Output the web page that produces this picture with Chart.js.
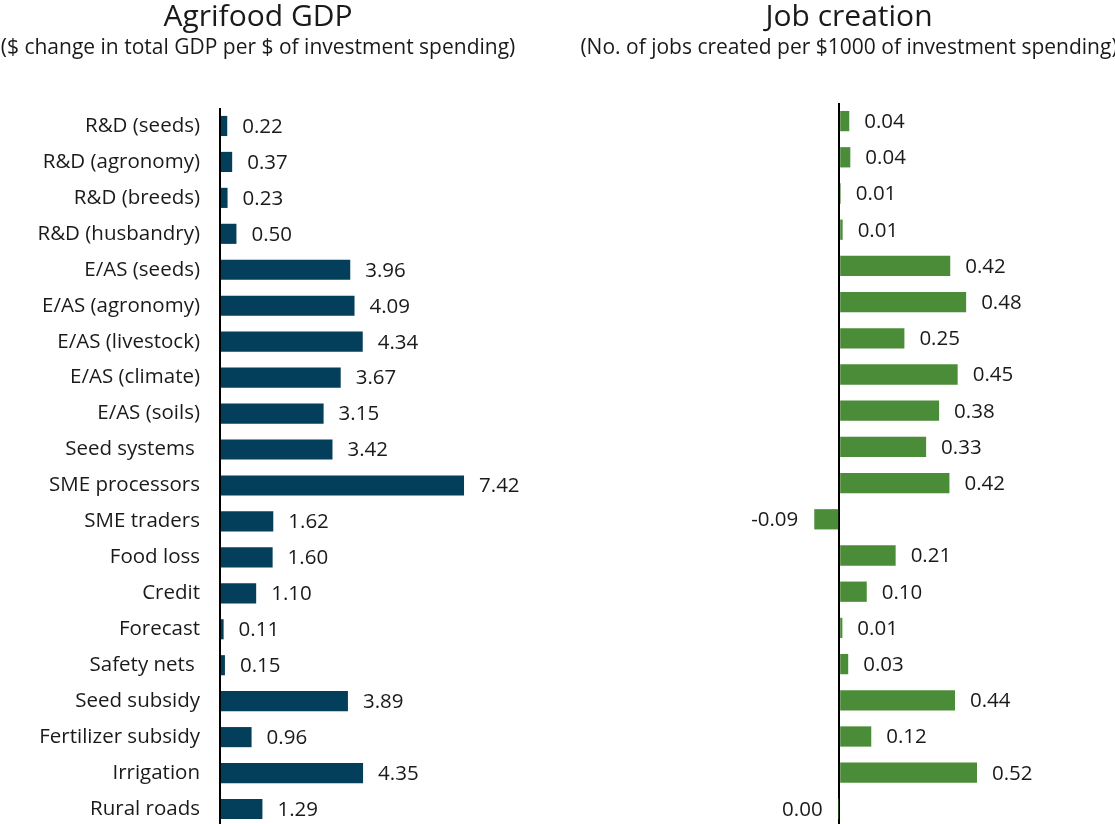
<!DOCTYPE html>
<html><head><meta charset="utf-8">
<script src="https://cdn.jsdelivr.net/npm/chart.js@4.4.1/dist/chart.umd.min.js"></script>
<style>
html,body{margin:0;padding:0;background:#fff;width:1115px;height:824px;overflow:hidden;}
#left{position:absolute;left:0;top:0;}
#right{position:absolute;left:580px;top:0;}
</style></head><body>
<canvas id="left" width="560" height="827"></canvas>
<canvas id="right" width="538" height="827"></canvas>
<script>
const categories = ["R&D (seeds)","R&D (agronomy)","R&D (breeds)","R&D (husbandry)","E/AS (seeds)","E/AS (agronomy)","E/AS (livestock)","E/AS (climate)","E/AS (soils)","Seed systems ","SME processors","SME traders","Food loss","Credit","Forecast","Safety nets ","Seed subsidy","Fertilizer subsidy","Irrigation","Rural roads"];
const gdpValues = [0.22,0.37,0.23,0.50,3.96,4.09,4.34,3.67,3.15,3.42,7.42,1.62,1.60,1.10,0.11,0.15,3.89,0.96,4.35,1.29];
const jobValues = [0.038,0.042,0.006,0.013,0.419,0.479,0.246,0.447,0.377,0.328,0.416,-0.094,0.213,0.104,0.012,0.034,0.437,0.121,0.52,-0.002];
const gdpTitle = "Agrifood GDP";
const gdpSubtitle = "($ change in total GDP per $ of investment spending)";
const jobTitle = "Job creation";
const jobSubtitle = "(No. of jobs created per $1000 of investment spending)";

const FONT = "Open Sans";
const TEXT = "#1a1a1a";

function fmt(v){ return Math.abs(v) < 0.005 ? "0.00" : v.toFixed(2); }

const valueLabels = {
  id: 'valueLabels',
  afterDatasetsDraw(chart){
    const ctx = chart.ctx;
    const meta = chart.getDatasetMeta(0);
    const data = chart.data.datasets[0].data;
    ctx.save();
    ctx.font = "20.5px '" + FONT + "'";
    ctx.fillStyle = TEXT;
    ctx.textBaseline = 'middle';
    meta.data.forEach((bar, i) => {
      const v = data[i];
      if (v >= 0) { ctx.textAlign = 'left'; ctx.fillText(fmt(v), bar.x + 15, bar.y + 1); }
      else { ctx.textAlign = 'right'; ctx.fillText(fmt(v), bar.x - 16, bar.y + 1); }
    });
    ctx.restore();
  }
};

function zeroGrid(ctx){ return Math.abs(ctx.tick.value) < 1e-9 ? '#000' : 'rgba(0,0,0,0)'; }

function makeOptions(title, subtitle, xmin, xmax, showY, padRight, subPadBottom){
  return {
    responsive: false,
    animation: false,
    indexAxis: 'y',
    layout: { padding: { left: 0, right: padRight, top: 0, bottom: 0 } },
    plugins: {
      legend: { display: false },
      tooltip: { enabled: false },
      title: { display: true, text: title, color: TEXT, font: { family: FONT, size: 30, weight: 'normal', lineHeight: 1.05 }, padding: { top: 2, bottom: 0 } },
      subtitle: { display: true, text: subtitle, color: TEXT, font: { family: FONT, size: 21, weight: 'normal', lineHeight: 1.2 }, padding: { top: 2, bottom: subPadBottom } }
    },
    scales: {
      x: {
        min: xmin, max: xmax,
        ticks: { display: false },
        grid: { color: zeroGrid, lineWidth: 2, drawTicks: false },
        border: { display: false }
      },
      y: {
        display: showY,
        ticks: { color: TEXT, font: { family: FONT, size: 20.5 }, padding: 20 },
        grid: { display: false, drawTicks: false },
        border: { display: false },
        afterFit(s){ if (showY) { s.width = 220; s.paddingTop = 0; s.paddingBottom = 0; } }
      }
    }
  };
}

new Chart(document.getElementById('left'), {
  type: 'bar',
  data: { labels: categories, datasets: [{ data: gdpValues, backgroundColor: '#033f5a', categoryPercentage: 1, barPercentage: 0.56 }] },
  options: makeOptions(gdpTitle, gdpSubtitle, 0, 9, true, 44, 47.3),
  plugins: [valueLabels]
});

new Chart(document.getElementById('right'), {
  type: 'bar',
  data: { labels: categories, datasets: [{ data: jobValues, backgroundColor: '#4a8c37', categoryPercentage: 1, barPercentage: 0.56 }] },
  options: makeOptions(jobTitle, jobSubtitle, -0.978, 1.052, false, 0, 42.3),
  plugins: [valueLabels]
});
</script>
</body></html>
